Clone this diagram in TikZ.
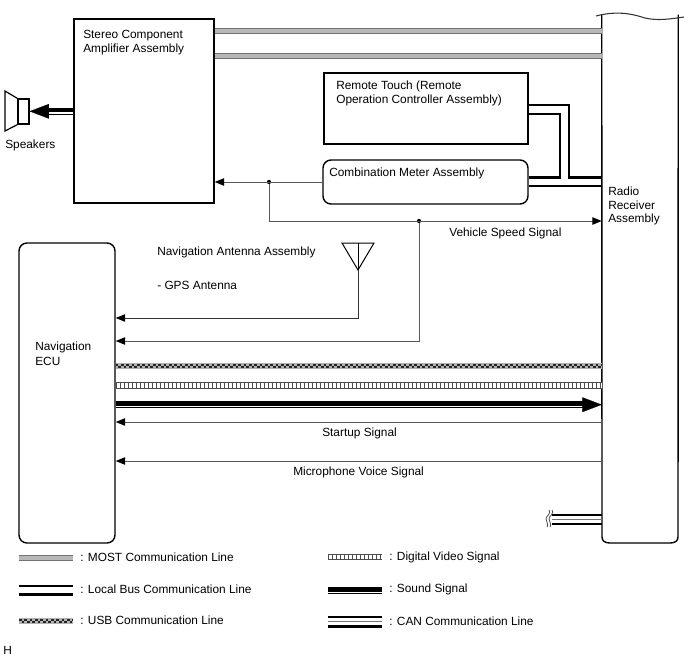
\documentclass[tikz,border=0pt]{standalone}
\usepackage{fontspec}
\setmainfont{Liberation Sans}
\usetikzlibrary{arrows.meta}
\definecolor{sig}{gray}{0.35}
\tikzset{
  box/.style={draw=black,line width=1.05pt,fill=white,inner sep=0pt},
  rbox/.style={box,rounded corners=6pt},
  ghost/.style={inner sep=0pt,minimum size=0pt,draw=none},
  txt/.style={inner sep=0pt,anchor=west,yshift=-0.9pt,font=\fontsize{8.9pt}{10.5pt}\selectfont},
  sigline/.style={draw=sig,line width=0.75pt},
  sigarrow/.style={sigline,-{Triangle[length=7pt,width=5.5pt,color=black]}},
  dot/.style={circle,fill=black,inner sep=0pt,minimum size=3.2pt},
  mostline/.style={draw=black!55,line width=4.6pt,postaction={draw=black!28,line width=3pt}},
  usbline/.style={draw=black!30,line width=4.6pt,
    postaction={draw=black!85,line width=1.5pt,dash pattern=on 2pt off 2pt,transform canvas={yshift=0.9pt}},
    postaction={draw=black!85,line width=1.5pt,dash pattern=on 2pt off 2pt,dash phase=2pt,transform canvas={yshift=-0.9pt}}},
  videoline/.style={draw=black!70,line width=4.6pt,
    postaction={draw=white,line width=3.3pt},
    postaction={draw=black!70,line width=3.3pt,dash pattern=on 1.1pt off 1.9pt}},
  busline/.style={draw=black,line width=1.9pt,line join=miter},
  fatline/.style={draw=black,line width=3.2pt},
  thinblack/.style={draw=black,line width=0.9pt},
  canline/.style={draw=black,line width=1.6pt},
  bighead/.style={draw=black,line width=0.1pt,-{Triangle[length=14.5pt,width=11pt,color=black]}},
  brk/.style={draw=black!70,line width=0.6pt},
}
\begin{document}
\begin{tikzpicture}[x=0.75pt,y=-0.75pt]
\useasboundingbox (0,0) rectangle (688,658);
% boxes
\node[box,minimum width=105pt,minimum height=138pt] (amp) at (144,111) {};
\node[box,minimum width=153pt,minimum height=53.25pt] (remote) at (426,108.5) {};
\node[rbox,minimum width=153.75pt,minimum height=33pt] (meter) at (425.5,182) {};
\node[rbox,minimum width=72pt,minimum height=225pt] (nav) at (67,393) {};
\node[ghost,minimum width=57pt,minimum height=396pt] (radio) at (640,279) {};
\draw[line width=1.05pt] (radio.north west) -- (602,537)
  .. controls (602,541) and (605,543) .. (610,543) -- (670,543)
  .. controls (675,543) and (678,541) .. (678,537) -- (radio.north east);
\draw[line width=0.8pt,draw=black!80] (596,16) .. controls (615,11) and (630,13) .. (645,18) .. controls (658,21) and (670,19) .. (684,17);
% level coordinates
\coordinate (m1) at (0,31);
\coordinate (m2) at (0,56);
\coordinate (la) at (0,105);
\coordinate (lb) at (0,114);
\coordinate (lc) at (0,177.5);
\coordinate (ld) at (0,186);
\coordinate (lx1) at (569,0);
\coordinate (lx2) at (560,0);
\coordinate (s1) at (0,182);
\coordinate (s2) at (0,221);
\coordinate (s3) at (0,318);
\coordinate (s4) at (0,341);
\coordinate (u) at (0,366);
\coordinate (v) at (0,385.5);
\coordinate (w1) at (0,403.5);
\coordinate (w2) at (0,407.6);
\coordinate (w3) at (0,404.7);
\coordinate (st) at (0,422);
\coordinate (mc) at (0,461);
% MOST
\draw[mostline] (amp.east |- m1) -- (radio.west |- m1);
\draw[mostline] (amp.east |- m2) -- (radio.west |- m2);
% local bus
\draw[busline] (remote.east |- la) -- (lx1 |- la) -- (lx1 |- lc) -- (radio.west |- lc);
\draw[busline] (remote.east |- lb) -- (lx2 |- lb) -- (lx2 |- lc) -- (meter.east |- lc);
\draw[busline] (meter.east |- ld) -- (radio.west |- ld);
% speed signal
\node[dot] (d1) at (269,182) {};
\node[dot] (d2) at (419,221) {};
\coordinate (c1) at (269,221);
\coordinate (c2) at (419,341);
\draw[sigarrow] (meter.west |- s1) -- (amp.east |- s1);
\draw[sigarrow] (d1) -- (c1) -- (radio.west |- s2);
\draw[sigarrow] (d2) -- (c2) -- (nav.east |- s4);
% antenna
\coordinate (ant1) at (342,243);
\coordinate (ant2) at (374,243);
\coordinate (ant3) at (358,270);
\coordinate (ant0) at (358,243);
\coordinate (ant4) at (358,318);
\draw[line width=0.75pt] (ant1) -- (ant2) -- (ant3) -- cycle;
\draw[line width=0.75pt] (ant0) -- (ant3);
\draw[sigarrow,draw=black!80] (ant3) -- (ant4) -- (nav.east |- s3);
% bundles
\draw[usbline] (nav.east |- u) -- (radio.west |- u);
\draw[videoline] (nav.east |- v) -- (radio.west |- v);
\draw[fatline] (nav.east |- w1) -- (583,403.5);
\draw[thinblack] (nav.east |- w2) -- (583,407.6);
\coordinate (hs) at (580,404.7);
\draw[bighead] (hs) -- (radio.west |- w3);
\draw[sigarrow] (radio.west |- st) -- (nav.east |- st);
\draw[sigarrow] (radio.west |- mc) -- (nav.east |- mc);
% speakers
\node[ghost,minimum width=8.25pt,minimum height=18.75pt,draw=black,line width=0.9pt] (spk) at (23.5,111.5) {};
\coordinate (sa) at (5,91);
\coordinate (sb) at (5,131);
\draw[line width=0.9pt] (spk.north west) -- (sa) -- (sb) -- (spk.south west);
\coordinate (q1) at (0,110.3);
\coordinate (q2) at (0,114.2);
\coordinate (q3) at (0,111.3);
\coordinate (qa) at (48,0);
\draw[fatline] (amp.west |- q1) -- (qa |- q1);
\draw[thinblack] (amp.west |- q2) -- (qa |- q2);
\coordinate (qb) at (50,111.3);
\draw[bighead] (qb) -- (spk.east |- q3);
% CAN stub
\coordinate (k1) at (0,514.7);
\coordinate (k2) at (0,519.3);
\coordinate (k3) at (0,523.7);
\coordinate (kx) at (552,0);
\draw[canline] (kx |- k1) -- (radio.west |- k1);
\draw[draw=black!55,line width=0.9pt] (kx |- k2) -- (radio.west |- k2);
\draw[canline] (kx |- k3) -- (radio.west |- k3);
\draw[brk] (549,510) .. controls (552,513) and (546,516) .. (546,519) .. controls (546,522) and (549,524) .. (547,527);
\draw[brk] (552,510) .. controls (555,513) and (549,516) .. (549,519) .. controls (549,522) and (552,524) .. (550,527);
% legend samples
\coordinate (lg1a) at (19,558); \coordinate (lg1b) at (73,558);
\draw[mostline] (lg1a) -- (lg1b);
\coordinate (lg2a) at (19,586); \coordinate (lg2b) at (73,586);
\coordinate (lg3a) at (19,594.5); \coordinate (lg3b) at (73,594.5);
\draw[busline] (lg2a) -- (lg2b);
\draw[busline] (lg3a) -- (lg3b);
\coordinate (lg4a) at (19,621); \coordinate (lg4b) at (73,621);
\draw[usbline] (lg4a) -- (lg4b);
\coordinate (lg5a) at (328,557); \coordinate (lg5b) at (382,557);
\draw[videoline] (lg5a) -- (lg5b);
\coordinate (lg6a) at (328,589.5); \coordinate (lg6b) at (382,589.5);
\coordinate (lg7a) at (328,593.6); \coordinate (lg7b) at (382,593.6);
\draw[fatline] (lg6a) -- (lg6b);
\draw[thinblack] (lg7a) -- (lg7b);
\coordinate (lg8a) at (328,617); \coordinate (lg8b) at (382,617);
\coordinate (lg9a) at (328,621.5); \coordinate (lg9b) at (382,621.5);
\coordinate (lgaa) at (328,626.5); \coordinate (lgab) at (382,626.5);
\draw[canline] (lg8a) -- (lg8b);
\draw[draw=black!55,line width=0.9pt] (lg9a) -- (lg9b);
\draw[canline] (lgaa) -- (lgab);
% texts
\node[txt] (t1) at (83,34) {Stereo Component};
\node[txt] (t2) at (83,48.5) {Amplifier Assembly};
\node[txt] (t3) at (5,144) {Speakers};
\node[txt] (t4) at (336,85) {Remote Touch (Remote};
\node[txt] (t5) at (336,99) {Operation Controller Assembly)};
\node[txt] (t6) at (329,172) {Combination Meter Assembly};
\node[txt] (t7) at (608,190) {Radio};
\node[txt] (t8) at (608,204) {Receiver};
\node[txt] (t9) at (608,218) {Assembly};
\node[txt] (t10) at (449,232.5) {Vehicle Speed Signal};
\node[txt] (t11) at (157,251) {Navigation Antenna Assembly};
\node[txt] (t12) at (157,284.5) {- GPS Antenna};
\node[txt] (t13) at (35,346) {Navigation};
\node[txt] (t14) at (35,360) {ECU};
\node[txt] (t15) at (322,432) {Startup Signal};
\node[txt] (t16) at (293,471) {Microphone Voice Signal};
\node[txt] (t17) at (80,556) {: MOST Communication Line};
\node[txt] (t18) at (80,588) {: Local Bus Communication Line};
\node[txt] (t19) at (80,619) {: USB Communication Line};
\node[txt] (t20) at (389,556.5) {: Digital Video Signal};
\node[txt] (t21) at (389,588.5) {: Sound Signal};
\node[txt] (t22) at (389,620) {: CAN Communication Line};
\node[txt] (t23) at (3,649.5) {H};
\end{tikzpicture}
\end{document}
